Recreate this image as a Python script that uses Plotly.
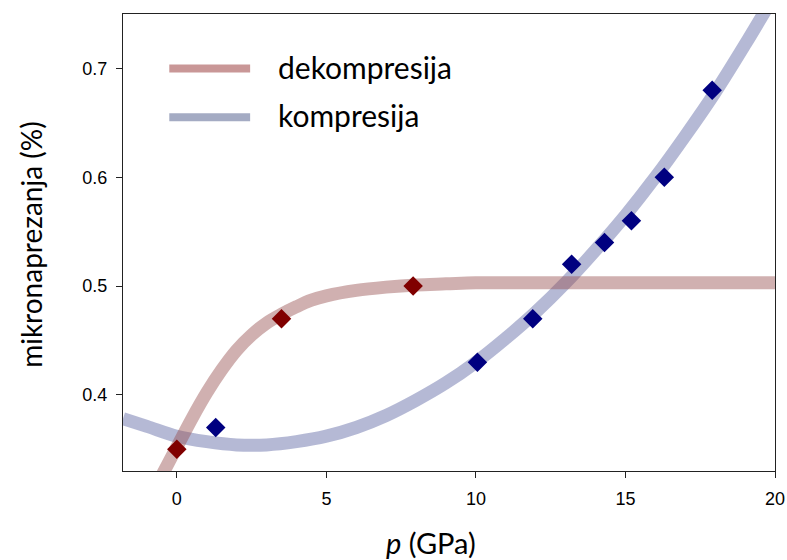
import plotly.graph_objects as go

# Measured points (pressure in GPa, microstrain in %)
dekomp_p = [0.0, 3.5, 7.9]
dekomp_e = [0.35, 0.47, 0.50]

komp_p = [1.3, 10.05, 11.9, 13.2, 14.3, 15.2, 16.3, 17.9]
komp_e = [0.37, 0.43, 0.47, 0.52, 0.54, 0.56, 0.60, 0.68]

# Fitted trend curves (sampled along the fit)
dekomp_fit_p = [-0.5, 0, 0.5, 1, 1.5, 2, 2.5, 3, 3.5, 4, 4.5, 5, 6, 7, 8, 9, 10, 12, 15, 20]
dekomp_fit_e = [0.326, 0.352, 0.378, 0.402, 0.423, 0.441, 0.455, 0.466, 0.474, 0.481, 0.487, 0.491,
                0.496, 0.499, 0.501, 0.502, 0.503, 0.503, 0.503, 0.503]

komp_fit_p = [-1.8, -1, 0, 1, 2, 3, 4, 5, 6, 7, 8, 9, 10, 11, 12, 13, 14, 15, 16, 17, 18, 19, 20]
komp_fit_e = [0.378, 0.371, 0.362, 0.357, 0.354, 0.354, 0.357, 0.362, 0.370, 0.381, 0.395, 0.411,
              0.430, 0.452, 0.476, 0.503, 0.533, 0.565, 0.600, 0.638, 0.678, 0.722, 0.768]

x_ticks = [0, 5, 10, 15, 20]
y_ticks = [0.4, 0.5, 0.6, 0.7]

RED_FIT = "rgba(150,80,80,0.45)"
BLUE_FIT = "rgba(70,80,150,0.4)"
RED_PT = "#800000"
BLUE_PT = "#000080"
TEXT_FONT = "Lato, Open Sans, sans-serif"

fig = go.Figure()

fig.add_trace(go.Scatter(x=komp_fit_p, y=komp_fit_e, mode="lines",
                         line=dict(color=BLUE_FIT, width=13, shape="spline", smoothing=1.0),
                         showlegend=False, hoverinfo="skip"))
fig.add_trace(go.Scatter(x=dekomp_fit_p, y=dekomp_fit_e, mode="lines",
                         line=dict(color=RED_FIT, width=13, shape="spline", smoothing=1.0),
                         showlegend=False, hoverinfo="skip"))
fig.add_trace(go.Scatter(x=komp_p, y=komp_e, mode="markers",
                         marker=dict(symbol="diamond", size=15, color=BLUE_PT),
                         showlegend=False))
fig.add_trace(go.Scatter(x=dekomp_p, y=dekomp_e, mode="markers",
                         marker=dict(symbol="diamond", size=15, color=RED_PT),
                         showlegend=False))

# Hand-placed legend (paper coordinates inside the plot area)
legend_items = [("dekompresija", "#C99797", 0.119), ("kompresija", "#A4ABC3", 0.226)]
for label, col, ytop in legend_items:
    yp = 1 - ytop
    fig.add_shape(type="line", xref="paper", yref="paper",
                  x0=0.071, x1=0.195, y0=yp, y1=yp,
                  line=dict(color=col, width=8))
    fig.add_annotation(text=label, xref="paper", yref="paper", x=0.234, y=yp + 0.004,
                       xanchor="left", yanchor="middle", showarrow=False,
                       font=dict(family=TEXT_FONT, size=30, color="#000"))

# Axis titles
fig.add_annotation(text="<i>p</i> (GPa)", xref="paper", yref="paper", x=0.473, y=-0.157,
                   xanchor="center", yanchor="middle", showarrow=False,
                   font=dict(family=TEXT_FONT, size=29, color="#000"))
fig.add_annotation(text="mikronaprezanja (%)", xref="paper", yref="paper", x=-0.141, y=0.495,
                   xanchor="center", yanchor="middle", showarrow=False, textangle=-90,
                   font=dict(family=TEXT_FONT, size=28, color="#000"))

axis_common = dict(showline=True, linecolor="#222", linewidth=1.3, mirror=True,
                   ticks="outside", ticklen=6, tickcolor="#222", tickwidth=1.2,
                   showgrid=False, zeroline=False, automargin=False,
                   tickfont=dict(family="Liberation Sans, Arial, sans-serif", size=18, color="#000"))

fig.update_layout(
    width=787, height=560,
    margin=dict(l=123, r=12, t=14, b=89),
    paper_bgcolor="white", plot_bgcolor="white",
    xaxis=dict(range=[-1.8, 20], tickvals=x_ticks, ticklabelstandoff=5, **axis_common),
    yaxis=dict(range=[0.33, 0.75], tickvals=y_ticks, tickformat=".1f",
               ticklabelstandoff=5, **axis_common),
)

fig.write_html("out.html")
